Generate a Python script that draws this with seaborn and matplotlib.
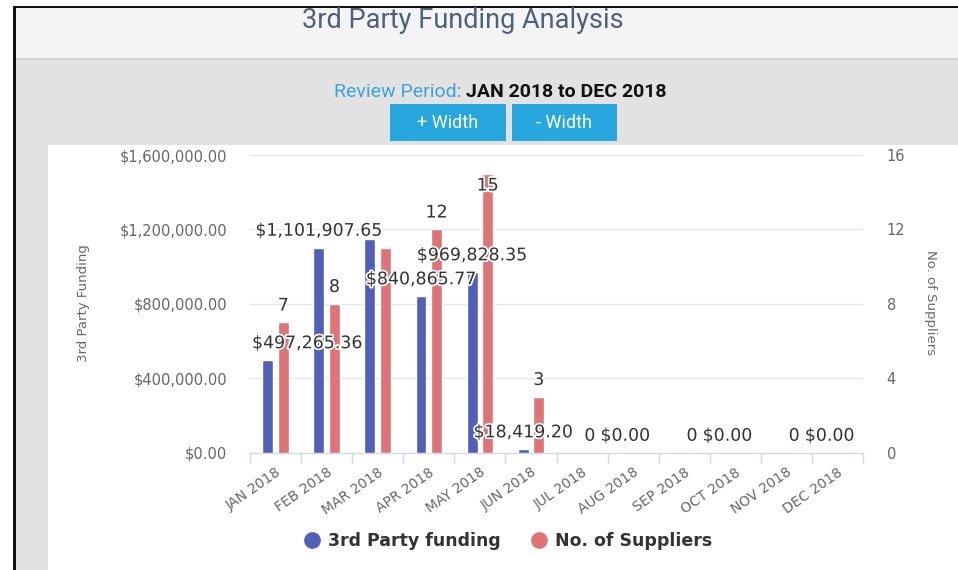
import matplotlib as mpl
import matplotlib.pyplot as plt
import matplotlib.patheffects as pe
from matplotlib.lines import Line2D
from matplotlib.patches import Rectangle
from matplotlib.ticker import FuncFormatter, FixedLocator
import numpy as np
import pandas as pd
import seaborn as sns

months = ['JAN 2018', 'FEB 2018', 'MAR 2018', 'APR 2018', 'MAY 2018', 'JUN 2018',
          'JUL 2018', 'AUG 2018', 'SEP 2018', 'OCT 2018', 'NOV 2018', 'DEC 2018']
funding = [497265.36, 1101907.65, 1148000.00, 840865.77, 969828.35, 18419.20,
           0, 0, 0, 0, 0, 0]
suppliers = [7, 8, 11, 12, 15, 3, 0, 0, 0, 0, 0, 0]

# highcharts hid the labels that overlapped, keep only the ones visible
funding_label_shown = [True, True, False, True, True, True,
                       False, True, False, True, False, True]
supplier_label_shown = [True, True, False, True, True, True,
                        True, False, True, False, True, False]

series = ['3rd Party funding', 'No. of Suppliers']
colors = ['#5160b6', '#de7478']

W, H = 958, 570


def fx(px):
    return px / W


def fy(py):
    return 1 - py / H


def add_box(fig, x0, y0, x1, y1, color):
    fig.patches.append(Rectangle((fx(x0), fy(y1)), fx(x1) - fx(x0), fy(y0) - fy(y1),
                                 transform=fig.transFigure, color=color, zorder=-10, lw=0))


def main():
    sns.set_style('white')
    plt.rcParams['font.family'] = ['DejaVu Sans']

    fig = plt.figure(figsize=(W / 100, H / 100), dpi=100)
    fig.patch.set_facecolor('white')

    # page frame, header and grey body
    add_box(fig, 13, 6, W, 8, '#111111')
    add_box(fig, 13, 6, 16, H, '#111111')
    add_box(fig, 16, 8, W, 58, '#f4f4f4')
    add_box(fig, 16, 58, W, 59.5, '#d4d4d4')
    add_box(fig, 16, 59.5, W, H, '#e2e2e2')
    add_box(fig, 48, 145, W, H, 'white')

    fig.text(fx(463), fy(21), '3rd Party Funding Analysis', ha='center', va='center',
             fontsize=19.5, color='#4d6178', family='Roboto')
    fig.text(fx(461), fy(92), 'Review Period:', ha='right', va='center',
             fontsize=14, color='#3ea3d3', family='Roboto')
    fig.text(fx(466), fy(92), 'JAN 2018 to DEC 2018', ha='left', va='center',
             fontsize=14, color='#111111', family='Roboto', weight='bold')

    for x0, x1, txt in [(390, 506, '+ Width'), (512, 617, '- Width')]:
        add_box(fig, x0, 104, x1, 141, '#27a7dd')
        fig.text(fx((x0 + x1) / 2), fy(122.5), txt, ha='center', va='center',
                 fontsize=13, color='white', family='Roboto')

    ax = fig.add_axes([fx(250), fy(452.7), fx(863) - fx(250), 297.7 / H])
    ax2 = ax.twinx()
    ax.set_facecolor('none')

    df = pd.DataFrame({
        'month': months * 2,
        'series': [series[0]] * len(months) + [series[1]] * len(months),
        'funding': funding + [np.nan] * len(months),
        'suppliers': [np.nan] * len(months) + suppliers,
    })

    common = dict(x='month', hue='series', hue_order=series, palette=colors, order=months,
                  width=0.61, gap=0.3, errorbar=None, legend=False, saturation=1)
    sns.barplot(data=df, y='funding', ax=ax, **common)
    sns.barplot(data=df, y='suppliers', ax=ax2, **common)

    ax.set_xlim(-0.5, len(months) - 0.5)
    ax.set_ylim(0, 1600000)
    ax2.set_ylim(0, 16)
    ax.set_yticks(np.arange(0, 1600001, 400000))
    ax2.set_yticks(np.arange(0, 17, 4))
    ax.yaxis.set_major_formatter(FuncFormatter(lambda v, _: f'${v:,.2f}'))

    for a in (ax, ax2):
        a.set_xlabel('')
        a.set_ylabel('')
        for s in a.spines.values():
            s.set_visible(False)
        a.tick_params(axis='y', length=0, labelsize=10.5, labelcolor='#666666')
    ax.tick_params(axis='y', pad=16.5)
    ax2.tick_params(axis='y', pad=17)

    ax.spines['bottom'].set_visible(True)
    ax.spines['bottom'].set_color('#ccd6eb')
    ax.yaxis.grid(True, color='#e6e6e6', lw=1)
    ax.set_axisbelow(True)

    ax.set_xticks(range(len(months)))
    ax.set_xticklabels(months, rotation=35, ha='right', va='top', rotation_mode='anchor',
                       fontsize=10, color='#666666')
    ax.xaxis.set_minor_locator(FixedLocator(np.arange(-0.5, len(months), 1)))
    ax.tick_params(axis='x', which='major', length=0, pad=9)
    ax.tick_params(axis='x', which='minor', length=7, color='#ccd6eb', width=1, bottom=True)
    ax2.tick_params(axis='x', which='both', length=0, labelbottom=False)

    fig.text(fx(84), fy(303), '3rd Party Funding', rotation=90, ha='center', va='center',
             fontsize=9.5, color='#666666')
    fig.text(fx(930), fy(303), 'No. of Suppliers', rotation=270, ha='center', va='center',
             fontsize=9.5, color='#666666')

    # data labels, all on the top axes so they sit over both bar sets
    stroke = [pe.withStroke(linewidth=2.5, foreground='white')]
    labels = []
    for a, vals, shown, fmt, top in [
        (ax, funding, funding_label_shown, lambda v: f'${v:,.2f}', 1600000),
        (ax2, suppliers, supplier_label_shown, lambda v: f'{v:g}', 16),
    ]:
        bars = sorted([p for p in a.patches if isinstance(p, Rectangle)], key=lambda p: p.get_x())
        for bar, v, show in zip(bars, vals, shown):
            if not show:
                continue
            inside = v > 0.92 * top
            off = -8.6 if inside else 12.2
            ann = ax2.annotate(fmt(v), xy=(bar.get_x() + bar.get_width() / 2, v),
                               xycoords=a.transData, xytext=(0, off), textcoords='offset points',
                               ha='center', va='center', fontsize=12.5, color='#333333',
                               path_effects=stroke, annotation_clip=False, zorder=10)
            labels.append((ann, off))

    fig.canvas.draw()
    renderer = fig.canvas.get_renderer()
    left = ax.get_window_extent(renderer).x0
    for ann, off in labels:
        bb = ann.get_window_extent(renderer)
        if bb.x0 < left:
            ann.xyann = ((left - bb.x0 + 2) * 72 / fig.dpi, off)

    handles = [Line2D([], [], marker='o', ls='', color=c, markersize=11) for c in colors]
    fig.legend(handles, series, loc='center', bbox_to_anchor=(fx(507), fy(541)), ncol=2,
               frameon=False, prop={'weight': 'bold', 'size': 12.5}, labelcolor='#333333',
               handletextpad=0.3, columnspacing=1.6, handlelength=1.2)

    fig.savefig('out.png', dpi=100)
    plt.close(fig)


if __name__ == '__main__':
    main()
